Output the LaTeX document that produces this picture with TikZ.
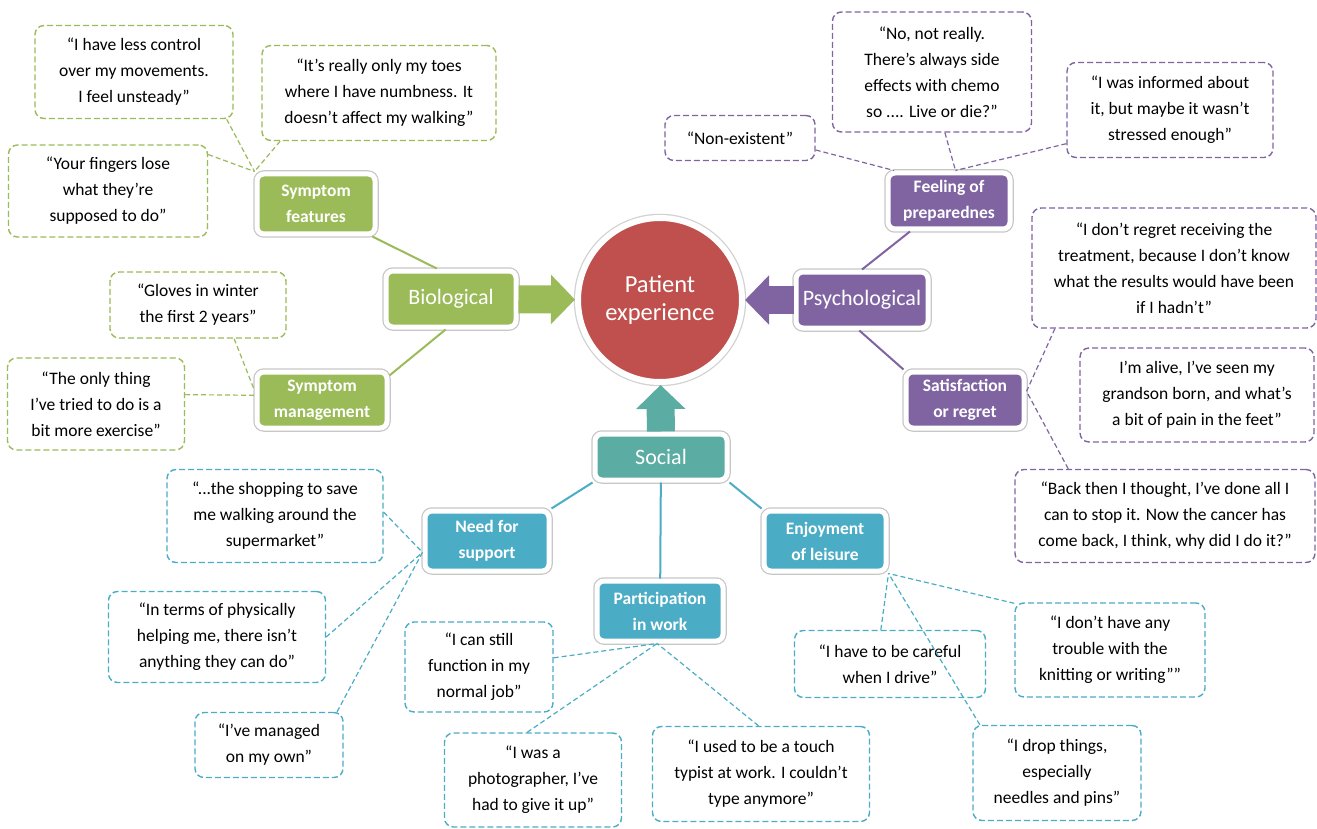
\documentclass[tikz,border=0pt]{standalone}
\usepackage{fontspec}
\setmainfont{Carlito}
\usepackage{tikz}
\usetikzlibrary{arrows.meta}
\definecolor{grn}{HTML}{9BBB59}
\definecolor{pur}{HTML}{8064A2}
\definecolor{rd}{HTML}{C0504D}
\definecolor{tl}{HTML}{4BACC6}
\definecolor{sc}{RGB}{91,172,163}
\tikzset{
  qt/.style={draw,rounded corners=9pt,dash pattern=on 6pt off 3pt,line width=1.4pt,fill=white,
    align=center,inner sep=0pt,font=\fontsize{17.5}{26}\selectfont},
  tp/.style={rounded corners=7pt,draw=white,line width=5pt,preaction={draw=black!22,line width=7.5pt},
    text=white,align=center,inner sep=0pt,font=\bfseries\fontsize{17.5}{26}\selectfont},
  big/.style={tp,font=\fontsize{22}{26}\selectfont},
  sl/.style={line width=2pt},
  dl/.style={line width=1.2pt,dash pattern=on 5pt off 3pt},
  barrow/.style={line width=28pt,-{Triangle[length=24pt,width=48pt]}},
}
\begin{document}
\begin{tikzpicture}[x=1pt,y=-1pt]
\useasboundingbox (0,0) rectangle (1317,829);
\node[circle,fill=rd,draw=white,line width=6pt,preaction={draw=black!18,line width=8.5pt},minimum size=164,
  text=white,align=center,font=\fontsize{24.5}{28}\selectfont] (pe) at (660,300) {Patient\\experience};
\node[big,fill=grn,minimum width=130,minimum height=56] (bio) at (451,299) {Biological};
\node[big,fill=pur,minimum width=132,minimum height=56] (psy) at (862,300) {Psychological};
\node[big,fill=sc,minimum width=132,minimum height=46] (soc) at (661,457) {Social};
\draw[barrow,grn] (bio) -- (pe); \draw[barrow,pur] (psy) -- (pe); \draw[barrow,sc] (soc) -- (pe);
\node[tp,fill=grn,minimum width=118,minimum height=60] (sf) at (316,204) {Symptom\\features};
\node[tp,fill=grn,minimum width=130,minimum height=56] (sm) at (322,400) {Symptom\\management};
\node[tp,fill=pur,minimum width=122,minimum height=56] (fp) at (949,201) {Feeling of\\preparednes};
\node[tp,fill=pur,minimum width=118,minimum height=56] (sr) at (965,400) {Satisfaction\\or regret};
\node[tp,fill=tl,minimum width=124,minimum height=60] (ns) at (487,541) {Need for\\support};
\node[tp,fill=tl,minimum width=126,minimum height=60] (pw) at (660,611) {Participation\\in work};
\node[tp,fill=tl,minimum width=122,minimum height=60] (el) at (825,541) {Enjoyment\\of leisure};
\draw[sl,grn] (sf.-30) -- (bio.115); \draw[sl,grn] (bio.-100) -- (sm.20);
\draw[sl,pur] (psy.north) -- (fp.-142); \draw[sl,pur] (psy.-95) -- (sr.north west);
\draw[sl,tl] (soc.south west) -- (ns.north east); \draw[sl,tl] (soc) -- (pw); \draw[sl,tl] (soc.south east) -- (el.north west);
\node[qt,draw=grn,minimum width=198,minimum height=93] (g1) at (134,72) {“I have less control\\over my movements.\\I feel unsteady”};
\node[qt,draw=grn,minimum width=234,minimum height=95] (g2) at (379,93) {“It’s really only my toes\\where I have numbness. It\\doesn’t affect my walking”};
\node[qt,draw=grn,minimum width=199,minimum height=92] (g3) at (108,191) {“Your fingers lose\\what they’re\\supposed to do”};
\node[qt,draw=grn,minimum width=176,minimum height=66] (g4) at (198,305) {“Gloves in winter\\the first 2 years”};
\node[qt,draw=grn,minimum width=177,minimum height=92] (g5) at (96,404) {“The only thing\\I’ve tried to do is a\\bit more exercise”};
\draw[dl,grn] (g1.-27) -- (sf.north west); \draw[dl,grn] (g2.206) -- (sf.north west); \draw[dl,grn] (g3.20) -- (sf.north west);
\draw[dl,grn] (g4.-43) -- (sm.172); \draw[dl,grn] (g5.6) -- (sm.176);
\node[qt,draw=pur,minimum width=150,minimum height=45] (p1) at (740,138) {“Non-existent”};
\node[qt,draw=pur,minimum width=199,minimum height=120] (p2) at (932,72) {“No, not really.\\There’s always side\\effects with chemo\\so .... Live or die?”};
\node[qt,draw=pur,minimum width=206,minimum height=95] (p3) at (1170,110) {“I was informed about\\it, but maybe it wasn’t\\stressed enough”};
\node[qt,draw=pur,minimum width=284,minimum height=120] (p4) at (1174,268) {“I don’t regret receiving the\\treatment, because I don’t know\\what the results would have been\\if I hadn’t”};
\node[qt,draw=pur,minimum width=234,minimum height=94] (p5) at (1197,395) {I’m alive, I’ve seen my\\grandson born, and what’s\\a bit of pain in the feet”};
\node[qt,draw=pur,minimum width=300,minimum height=93] (p6) at (1165,516) {“Back then I thought, I’ve done all I\\can to stop it. Now the cancer has\\come back, I think, why did I do it?”};
\draw[dl,pur] (p1.-9) -- (fp.151); \draw[dl,pur] (p2.-78) -- (fp.78); \draw[dl,pur] (p3.198) -- (fp.78);
\draw[dl,pur] (p4.207) -- (sr.8); \draw[dl,pur] (p6.154) -- (sr.8);
\node[qt,draw=tl,minimum width=216,minimum height=93] (t1) at (275,516) {“...the shopping to save\\me walking around the\\supermarket”};
\node[qt,draw=tl,minimum width=217,minimum height=91] (t2) at (217,637) {“In terms of physically\\helping me, there isn’t\\anything they can do”};
\node[qt,draw=tl,minimum width=148,minimum height=65] (t3) at (269,745) {“I’ve managed\\on my own”};
\node[qt,draw=tl,minimum width=148,minimum height=90] (t4) at (479,667) {“I can still\\function in my\\normal job”};
\node[qt,draw=tl,minimum width=177,minimum height=94] (t5) at (533,780) {“I was a\\photographer, I’ve\\had to give it up”};
\node[qt,draw=tl,minimum width=217,minimum height=95] (t6) at (761,774) {“I used to be a touch\\typist at work. I couldn’t\\type anymore”};
\node[qt,draw=tl,minimum width=191,minimum height=67] (t7) at (890,664) {“I have to be careful\\when I drive”};
\node[qt,draw=tl,minimum width=190,minimum height=94] (t8) at (1110,650) {“I don’t have any\\trouble with the\\knitting or writing””};
\node[qt,draw=tl,minimum width=168,minimum height=95] (t9) at (1057,773) {“I drop things,\\especially\\needles and pins”};
\draw[dl,tl] (t1.2) -- (ns.190); \draw[dl,tl] (t2.east) -- (ns.190); \draw[dl,tl] (t3.26) -- (ns.190);
\draw[dl,tl] (t4.7) -- (pw.-95); \draw[dl,tl] (t5.97) -- (pw.-95); \draw[dl,tl] (t6.93) -- (pw.-95);
\draw[dl,tl] (t7.105) -- (el.south east); \draw[dl,tl] (t8.154) -- (el.south east); \draw[dl,tl] (t9.148) -- (el.south east);
\end{tikzpicture}
\end{document}
